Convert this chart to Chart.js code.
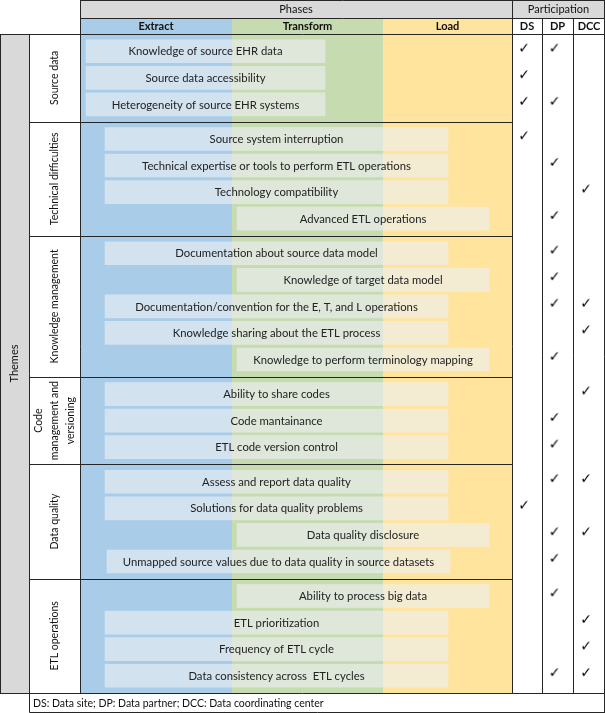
<!DOCTYPE html>
<html>
<head>
<meta charset="utf-8">
<script src="https://cdn.jsdelivr.net/npm/chart.js@4"></script>
<style>
  body { margin: 0; background: #fff; }
  canvas { display: block; }
</style>
</head>
<body>
<canvas id="etl_chart" width="605" height="713"></canvas>
<script>
// phases and participation columns (x in table units)
const phases = ['Extract', 'Transform', 'Load'];
const phaseEdges = [0, 152, 303, 432];
const roles = ['DS', 'DP', 'DCC'];
const roleEdges = [432, 462, 493, 525];

const themes = [
    ['Source data'],
    ['Technical difficulties'],
    ['Knowledge management'],
    ['Code', 'management and', 'versioning'],
    ['Data quality'],
    ['ETL operations']
];

const challenges = [
    'Knowledge of source EHR data',
    'Source data accessibility',
    'Heterogeneity of source EHR systems',
    'Source system interruption',
    'Technical expertise or tools to perform ETL operations',
    'Technology compatibility',
    'Advanced ETL operations',
    'Documentation about source data model',
    'Knowledge of target data model',
    'Documentation/convention for the E, T, and L operations',
    'Knowledge sharing about the ETL process',
    'Knowledge to perform terminology mapping',
    'Ability to share codes',
    'Code mantainance',
    'ETL code version control',
    'Assess and report data quality',
    'Solutions for data quality problems',
    'Data quality disclosure',
    'Unmapped source values due to data quality in source datasets',
    'Ability to process big data',
    'ETL prioritization',
    'Frequency of ETL cycle',
    'Data consistency across  ETL cycles'
];
const challengeTheme = [0, 0, 0, 1, 1, 1, 1, 2, 2, 2, 2, 2, 3, 3, 3, 4, 4, 4, 4, 5, 5, 5, 5];
const spanStart = [6, 6, 6, 25, 25, 25, 157, 25, 157, 25, 25, 157, 25, 25, 25, 25, 25, 157, 27, 157, 25, 25, 25];
const spanEnd = [245, 245, 245, 368, 368, 368, 409, 368, 409, 368, 368, 409, 368, 368, 368, 368, 368, 409, 370, 409, 368, 368, 368];

// rows (challenge index) ticked for each participant
const dsRows = [0, 1, 2, 3, 16];
const dpRows = [0, 2, 4, 6, 7, 8, 9, 11, 13, 14, 15, 17, 18, 19, 22];
const dccRows = [5, 9, 10, 12, 15, 17, 20, 21, 22];

const FONT = 'Lato, "Open Sans", sans-serif';
const LINE = '#262626';

// row positions: one unit per row, a small gap around every theme group
const groupGap = 0.3;
const rowY = [];
const groupEnd = [];
let pos = 0;
themes.forEach((t, g) => {
    pos += groupGap / 2;
    challengeTheme.forEach((th, i) => {
        if (th === g) {
            rowY[i] = pos + 0.5;
            pos += 1;
        }
    });
    pos += groupGap / 2;
    groupEnd.push(pos);
});
const totalRows = pos;

function makeCheck() {
    const c = document.createElement('canvas');
    c.width = 16;
    c.height = 16;
    const g = c.getContext('2d');
    g.fillStyle = '#000';
    g.font = 'bold 14px "DejaVu Sans"';
    g.textAlign = 'center';
    g.textBaseline = 'middle';
    g.fillText('\u2713', 8, 8);
    return c;
}
const checkImg = makeCheck();

function roleX(k) {
    return (roleEdges[k] + roleEdges[k + 1]) / 2 - 3;
}

const tablePlugin = {
    id: 'table',
    beforeDraw(chart) {
        const ctx = chart.ctx;
        const xs = chart.scales.x;
        const area = chart.chartArea;
        ctx.save();
        ctx.fillStyle = '#fff';
        ctx.fillRect(0, 0, chart.width, chart.height);
        // header row
        ctx.fillStyle = '#d9d9d9';
        ctx.fillRect(xs.getPixelForValue(0), 0, chart.width, 18);
        // phase bands
        const bandColors = ['#a9cce8', '#c7dbb0', '#ffe49e'];
        for (let k = 0; k < phases.length; k++) {
            const x0 = xs.getPixelForValue(phaseEdges[k]);
            const x1 = xs.getPixelForValue(phaseEdges[k + 1]);
            ctx.fillStyle = bandColors[k];
            ctx.fillRect(x0, 18, x1 - x0, area.bottom - 18);
        }
        // themes column
        ctx.fillStyle = '#d9d9d9';
        ctx.fillRect(0, area.top, 30, area.bottom - area.top);
        ctx.restore();
    },
    afterDatasetsDraw(chart) {
        const ctx = chart.ctx;
        const xs = chart.scales.x;
        const ys = chart.scales.y;
        const area = chart.chartArea;
        const left = xs.getPixelForValue(0);
        const phaseRight = xs.getPixelForValue(phaseEdges[3]);
        const right = chart.width - 0.5;
        ctx.save();

        // bar labels
        ctx.fillStyle = '#222';
        ctx.font = '11.3px ' + FONT;
        ctx.textAlign = 'center';
        ctx.textBaseline = 'middle';
        const meta = chart.getDatasetMeta(0);
        meta.data.forEach((bar, i) => {
            ctx.fillText(challenges[i], (bar.x + bar.base) / 2, bar.y + 0.5);
        });

        // grid lines
        ctx.strokeStyle = LINE;
        ctx.lineWidth = 1;
        const seg = (x0, y0, x1, y1) => {
            ctx.beginPath();
            ctx.moveTo(x0, y0);
            ctx.lineTo(x1, y1);
            ctx.stroke();
        };
        const bottom = Math.round(area.bottom) + 0.5;
        const top = Math.round(area.top) + 0.5;
        seg(Math.round(left) + 0.5, 0, Math.round(left) + 0.5, bottom);
        seg(0.5, top, 0.5, bottom);
        seg(29.5, top, 29.5, chart.height - 0.5);
        seg(Math.round(phaseRight) + 0.5, 0, Math.round(phaseRight) + 0.5, bottom);
        for (let k = 1; k < roles.length; k++) {
            const x = Math.round(xs.getPixelForValue(roleEdges[k])) + 0.5;
            seg(x, 18, x, bottom);
        }
        seg(right, 0, right, chart.height - 0.5);
        seg(left, 0.5, chart.width, 0.5);
        seg(left, 18.5, chart.width, 18.5);
        seg(0, top, chart.width, top);
        groupEnd.slice(0, -1).forEach(v => {
            const y = Math.round(ys.getPixelForValue(v)) + 0.5;
            seg(29.5, y, phaseRight, y);
        });
        seg(0, bottom, chart.width, bottom);
        seg(29.5, chart.height - 0.5, chart.width, chart.height - 0.5);

        // headers
        ctx.fillStyle = '#111';
        ctx.font = '11px ' + FONT;
        ctx.fillText('Phases', (left + phaseRight) / 2, 9.5);
        ctx.fillText('Participation', (phaseRight + chart.width) / 2, 9.5);
        ctx.font = 'bold 11px ' + FONT;
        phases.forEach((p, k) => {
            const cx = (xs.getPixelForValue(phaseEdges[k]) + xs.getPixelForValue(phaseEdges[k + 1])) / 2;
            ctx.fillText(p, cx, 26.5);
        });
        roles.forEach((r, k) => {
            const cx = (xs.getPixelForValue(roleEdges[k]) + xs.getPixelForValue(roleEdges[k + 1])) / 2;
            ctx.fillText(r, cx, 26.5);
        });

        // theme labels, rotated
        const rotated = (lines, cx, cy) => {
            ctx.save();
            ctx.translate(cx, cy);
            ctx.rotate(-Math.PI / 2);
            lines.forEach((line, j) => {
                ctx.fillText(line, 0, (j - (lines.length - 1) / 2) * 16);
            });
            ctx.restore();
        };
        ctx.font = '11px ' + FONT;
        rotated(['Themes'], 14, (area.top + area.bottom) / 2);
        ctx.font = '10.5px ' + FONT;
        let start = 0;
        themes.forEach((lines, g) => {
            const cy = (ys.getPixelForValue(start) + ys.getPixelForValue(groupEnd[g])) / 2;
            rotated(lines, 55, cy);
            start = groupEnd[g];
        });

        // footnote
        ctx.textAlign = 'left';
        ctx.font = '10.5px ' + FONT;
        ctx.fillText('DS: Data site; DP: Data partner; DCC: Data coordinating center', 33, (bottom + chart.height) / 2);
        ctx.restore();
    }
};

function checkSet(rows, k) {
    return {
        type: 'scatter',
        data: rows.map(i => ({ x: roleX(k), y: rowY[i] - 0.1 })),
        pointStyle: checkImg,
        pointRadius: 8,
        pointHoverRadius: 8
    };
}

new Chart(document.getElementById('etl_chart').getContext('2d'), {
    type: 'bar',
    data: {
        datasets: [
            {
                type: 'bar',
                indexAxis: 'y',
                data: challenges.map((c, i) => ({ x: [spanStart[i], spanEnd[i]], y: rowY[i] })),
                backgroundColor: 'rgba(238, 239, 243, 0.62)',
                borderWidth: 0,
                borderSkipped: false,
                barThickness: 23
            },
            checkSet(dsRows, 0),
            checkSet(dpRows, 1),
            checkSet(dccRows, 2)
        ]
    },
    options: {
        responsive: false,
        maintainAspectRatio: false,
        animation: false,
        events: [],
        layout: {
            autoPadding: false,
            padding: { left: 80, top: 34, right: 0, bottom: 20 }
        },
        plugins: {
            legend: { display: false },
            tooltip: { enabled: false },
            title: { display: false }
        },
        scales: {
            x: { type: 'linear', min: 0, max: 525, offset: false, display: false },
            y: { type: 'linear', min: 0, max: totalRows, offset: false, reverse: true, display: false }
        }
    },
    plugins: [tablePlugin]
});
</script>
</body>
</html>
